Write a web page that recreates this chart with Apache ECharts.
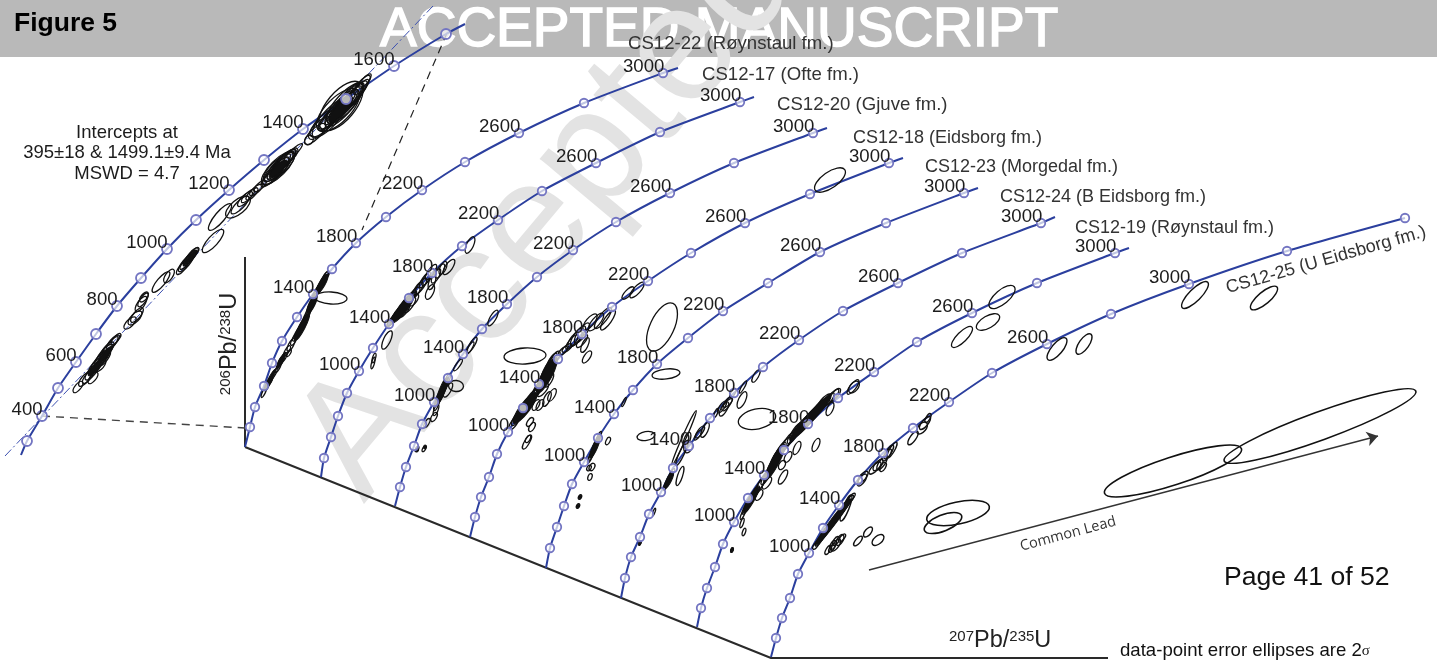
<!DOCTYPE html>
<html>
<head>
<meta charset="utf-8">
<title>Figure 5</title>
<script src="https://cdn.jsdelivr.net/npm/echarts@6/dist/echarts.min.js"></script>
<style>
	html, body { margin: 0; padding: 0; background: #fff; }
	#chart { width: 1437px; height: 666px; }
</style>
</head>
<body>
<div id="chart"></div>
<script>

// everything is read off the picture, in picture units (x right, y down)
// concordia ticks, one per 200 Ma starting at 200 Ma (inset: one per 100 Ma from 300 Ma)
var insetLine = [[21,455],[465,24]];
var insetTicks = [[27,441],[42,416],[58,388],[76,362],[96,334],[117,306],[141,278],[167,249],[196,220],[229,190],[264,160],[303,129],[346,99],[394,66],[446,34]];
var insetAges = [300,400,500,600,700,800,900,1000,1100,1200,1300,1400,1500,1600,1700];
var insetLabelled = [400,600,800,1000,1200,1400,1600];

var ticks22 = [[250,427],[255,407],[264,386],[272,363],[282,341],[297,317],[313,294],[332,269],[356,243],[386,217],[422,190],[465,162],[519,133],[584,103],[663,73]];
var ticks17 = [[324,458],[331,437],[338,416],[347,393],[359,371],[373,348],[389,324],[409,298],[432,273],[462,246],[498,220],[542,191],[596,163],[660,132],[740,102]];
var ticks20 = [[400,487],[406,467],[414,446],[422,424],[434,402],[448,378],[463,354],[482,329],[507,304],[537,277],[573,250],[616,222],[670,193],[734,163],[813,133]];
var ticks18 = [[475,517],[481,497],[489,477],[497,454],[508,432],[523,408],[539,384],[558,359],[582,334],[612,307],[648,281],[691,253],[745,223],[810,194],[889,163]];
var ticks23 = [[550,548],[557,527],[564,506],[572,484],[584,462],[598,438],[614,414],[633,390],[657,364],[688,338],[723,311],[768,283],[820,252],[886,223],[964,193]];
var ticks24 = [[625,578],[631,557],[640,537],[649,514],[661,492],[673,468],[689,446],[710,418],[734,393],[763,367],[799,340],[843,311],[898,283],[962,253],[1041,223]];
var ticks19 = [[701,608],[707,588],[715,567],[723,544],[734,522],[748,498],[764,475],[784,450],[808,424],[838,398],[874,372],[917,342],[972,313],[1037,283],[1115,253]];
var ticks25 = [[776,638],[782,618],[790,598],[798,574],[809,553],[823,528],[839,505],[858,480],[883,453],[913,428],[949,402],[992,373],[1047,344],[1111,314],[1189,284],[1287,251],[1405,218]];

var curveStarts = [[245,447],[321,477],[395,506],[470,537],[546,568],[621,598],[697,627],[771,657]];
var curveEnds = [[678,68],[754,97],[827,128],[903,158],[978,188],[1055,217],[1129,248],[1405,218]];
var curveTicks = [ticks22,ticks17,ticks20,ticks18,ticks23,ticks24,ticks19,ticks25];
var curveAges = [200,400,600,800,1000,1200,1400,1600,1800,2000,2200,2400,2600,2800,3000,3200,3400];
var labelled22 = [1400,1800,2200,2600,3000];
var labelledOther = [1000,1400,1800,2200,2600,3000];

var sampleNames = ['CS12-22 (Røynstaul fm.)','CS12-17 (Ofte fm.)','CS12-20 (Gjuve fm.)','CS12-18 (Eidsborg fm.)','CS12-23 (Morgedal fm.)','CS12-24 (B Eidsborg fm.)','CS12-19 (Røynstaul fm.)'];
var sampleAnchors = [[628,44],[702,75],[777,105],[853,138],[925,167],[1000,197],[1075,228]];

// error ellipses: centre x, centre y, long radius, short radius, tilt in degrees
var ellipsesInset = [
	[78,387,7,3,50],[85,379,9,3.5,50],[88,377,8,3,50],[92,372,10,3.5,50],[93,378,7,3,50],[96,366,11,4,50],[99,362,12,4,50],[100,365,8,4,50],[102,358,11,4,48],[104,354,12,3.5,50],[105,358,9,3,55],[107,350,10,3.5,50],[110,346,12,3,50],[113,342,9,3,48],[116,339,7,2.5,50],
	[130,323,8,3.5,45],[135,318,9,4,45],[137,315,9,3.5,50],[141,304,9,3.5,55],[143,300,8,3,55],[144,297,6,3,50],
	[161,282,13,4,50],[169,276,8,3.5,55],[182,268,8,3,50],[186,263,11,3.5,50],[188,260,12,3,50],[190,258,10,3,50],[192,255,9,3,50],[194,253,7,2.5,50],
	[213,241,15,5,48],[220,217,17,5,50],[238,207,15,7,40],[240,205,12,4,45],[245,199,10,3.5,45],[248,196,9,3,45],[252,194,8,3,45],[256,190,8,3,40],[260,186,8,3,40],
	[278,168,22,8,45],[279,167,20,7,42],[276,171,18,6,45],[280,166,18,6,48],[273,175,14,5,45],[283,162,15,5,45],[285,160,14,5,45],[278,168,15,4,45],[281,165,14,4,50],[270,178,12,4,45],[287,158,12,4,42],[293,153,13,3,45],[275,172,14,4,42],[291,155,9,4,45],[309,140,5,4,60],
	[320,128,15,6,45],[325,122,20,7,45],[330,118,25,8,48],[338,110,28,12,45],[341,106,30,14,50],[345,103,26,9,48],[342,108,24,8,48],[348,100,22,7,50],[350,98,20,6,48],[335,113,22,6,45],[333,116,20,5,46],[340,110,18,6,50],[355,95,18,5,50],[358,92,16,4,50],[362,85,12,4,50],[365,81,9,3,50],[346,103,16,5,48],[352,97,14,4,50],[329,119,15,5,45],[315,134,14,5,45],[337,113,16,4,45],[344,105,17,4,50]
];
var ellipses22 = [
	[264,392,6,1.5,65],[267,386,5,1.5,65],[270,381,5,1.5,62],[274,374,6,1.5,60],[278,368,5,1.5,58],[281,361,5,2,62],[284,357,5,2,62],[287,351,6,2,60],[291,345,7,2.5,62],[294,340,6,2,62],[297,334,8,2,60],[299,331,8,2,62],[302,325,9,2,62],[305,320,9,2,62],[307,315,8,2,62],[311,306,10,2,62],[313,301,9,2,65],[316,293,8,2,62],[319,288,9,2,60],[322,283,9,2,60],[324,279,8,2,60],[326,276,6,2,60],[331,298,16,6,-3],[289,353,4,1.5,60]
];
var ellipses17 = [
	[373,363,6,1.5,75],[374,358,5,1.5,72],[387,340,10,3.5,65],[391,322,6,2,50],[393,319,8,2,50],[396,316,9,2,50],[398,313,10,2.5,50],[400,310,10,2.5,50],[403,307,11,2.5,50],[405,304,11,3,48],[408,300,10,3,50],[411,297,8,2.5,50],[404,311,8,3,50],[410,305,9,3,55],[414,300,7,3,55],[415,293,7,3,50],[418,289,8,3,55],[421,286,9,3,55],[425,280,9,3,55],[428,277,10,3,55],[431,272,9,3,55],[432,282,8,3,70],[430,292,8,3.5,65],[436,276,8,3,60],[440,271,8,3,60],[449,267,9,3.5,55],[443,268,7,3,65],[470,245,9,3.5,65]
];
var ellipses20 = [
	[424,449,3,1.5,60],[417,449,3,1.5,60],[434,417,5,2.5,60],[427,423,5,2,60],[437,403,8,2,70],[439,398,8,2,70],[441,394,8,2,70],[443,390,9,2,70],[445,386,9,2,68],[447,381,8,2,68],[436,410,6,2,70],[456,386,7.5,5.5,-5],[448,390,8,3,60],[458,365,7,2,55],[472,345,9,2.5,60],[470,348,7,2,60],[493,318,9,3,60]
];
var ellipses18 = [
	[514,423,8,3,55],[517,418,9,3,55],[520,414,10,3,55],[523,410,10,3,55],[526,406,10,3,55],[528,402,9,3,55],[531,398,10,3,55],[535,394,10,3,55],[537,390,10,3,60],[540,386,11,3,60],[542,382,11,3,60],[544,377,11,3,65],[546,372,11,3,65],[549,367,11,3,65],[552,361,9,3,60],[555,358,8,3,55],[543,390,8,3,50],[549,380,8,3,60],[532,427,5,2.5,60],[530,422,5,2.5,55],[527,442,8,2.5,60],[528,439,4,2,60],[552,395,7,3,60],[547,399,8,3,65],[536,405,6,3,60],[540,405,6,3,60],[525,356,21,8,3],[587,357,7,3,55],[563,351,6,2.5,45],[567,348,6,2.5,40],[572,342,9,3,50],[575,339,10,4,50],[578,336,12,4,55],[582,333,12,4,55],[585,345,8,3,65],[590,322,10,4,50],[596,322,11,4,50],[603,318,13,4,52],[608,320,12,3.5,55],[582,341,8,3,50],[628,293,8,3,45],[637,290,10,3.5,48],[662,327,26,12,65],[830,180,18,8,35]
];
var ellipses23 = [
	[580,497,2.5,1.5,60],[578,506,2.5,1.5,60],[590,477,3.5,2,70],[592,467,4,2.5,60],[589,468,3,2,60],[590,458,6,1.5,65],[592,454,7,1.5,65],[594,449,7,1.5,65],[595,446,7,1.5,65],[597,441,7,1.5,70],[599,437,6,1.5,70],[608,441,4,2,65],[624,402,5,1,65],[666,374,14,5,7]
];
var ellipses24 = [
	[640,543,2.5,1,70],[654,512,4,1,70],[646,436,9,4.5,10],[666,485,6,1.5,65],[668,481,6,1.5,65],[670,477,6,1.5,65],[672,473,5,1.5,60],[680,476,10,2.5,72],[684,438,30,2,66],[682,453,14,2.5,65],[688,447,6,4,70],[687,440,8,3,70],[705,430,8,3,65],[700,432,7,2.5,55],[698,435,6,2,55],[716,413,5,1.5,65],[722,407,7,2.5,55],[727,404,8,3,55],[724,409,8,3,60],[728,403,6,2,45],[743,387,7,1.5,60],[742,400,9,3.5,65],[733,393,5,2,60],[756,376,7,2.5,60],[757,419,19,10,12]
];
var ellipses19 = [
	[732,550,2.5,1.2,70],[744,532,4,1.5,70],[742,523,5,1.5,70],[743,514,6,1.5,65],[746,508,7,2,62],[749,503,7,2,60],[752,498,8,2,60],[755,493,8,2.5,60],[759,487,9,2.5,60],[762,482,9,2.5,60],[766,477,9,2.5,60],[769,472,10,2.5,62],[772,466,10,2.5,62],[775,460,10,3,65],[778,455,10,3,62],[781,450,9,3,60],[785,445,9,3,55],[789,440,9,3,55],[793,436,9,3,55],[796,431,10,3,55],[800,427,9,3,50],[804,423,10,3,50],[808,419,11,3,50],[812,415,10,3,50],[816,411,11,3,50],[820,407,10,3.5,50],[824,402,10,3.5,50],[828,400,9,3,50],[832,397,10,3,50],[835,395,8,3,50],
	[759,495,6,3,60],[767,483,7,3,55],[782,465,5,3,60],[783,477,8,3,60],[797,448,7,3,65],[816,445,7,3,65],[788,457,6,3,60],[830,409,7,3,65],[853,387,9,3,52],[854,387,7,4,50],[962,337,14,5,45],[988,322,13,6,30],[1002,297,16,7,40]
];
var ellipses25 = [
	[816,545,5,2,55],[819,541,6,2,55],[822,537,6,2,55],[825,533,7,2,52],[828,529,7,2,52],[831,525,7,2,52],[834,521,7,2,52],[837,517,7,2,52],[840,513,8,2,52],[843,509,8,2,52],[846,505,7,2,52],[849,501,7,2,50],[851,498,6,2,50],[846,508,14,3,68],[862,480,7,3,55],[863,477,7,3,50],[875,468,8,3,45],[882,463,8,3,55],[878,465,7,3,50],[883,467,5,2.5,60],[887,455,7,2.5,55],[892,450,9,2.5,60],[889,452,8,2.5,60],[913,438,8,3,55],[922,428,7,4,50],[925,423,8,3,50],[928,418,5,2,60],
	[828,550,5,2,60],[833,545,5,2.5,60],[836,541,5,2.5,55],[840,540,6,3,60],[832,548,5,2,55],[836,545,7,3,55],[842,538,5,2,50],[858,541,6,2.5,50],[868,532,6,3,50],[878,540,7,4,40],
	[1057,349,14,5.5,50],[1084,344,12,5,55],[1195,295,18,6,45],[1264,298,17,6,40]
];
var ellipsesCommonLead = [[958,513,32,11,12],[943,523,20,8,22],[1173,471,72,14,18],[1320,426,102,14,20]];
// the overplotted streaks that read as solid black
var solidStreaks = [
	[270,380,12,2,63],[281,361,9,2,62],[302,327,15,3,62],[312,304,10,3,64],[322,284,11,3,60],
	[402,310,17,4,50],[442,391,14,3,68],[525,408,19,5,53],[547,375,20,5,62],[425,447,2,1.5,70],[417,450,2,1.5,70],
	[595,447,12,2.5,67],[580,497,2,1.3,60],[578,506,2,1.3,60],[669,480,9,2.5,65],[640,543,2.5,1,70],
	[751,500,15,3,60],[775,462,20,4,62],[810,418,30,4,48],[833,522,29,3,53],[732,550,2.5,1.2,70],
	[105,355,12,2.5,50],[95,368,10,2.5,50],[190,258,10,2,50],[340,110,16,5,48],[278,169,12,4,45]
];

var axisUp = [[245,257],[245,447]];
var axisBase = [[245,447],[771,658],[1108,658]];
var dashInsetLow = [[42,416],[245,428]];
var dashInsetHigh = [[447,33],[362,230]];
var discordia = [[5,456],[433,6]];
var commonLeadArrow = [[869,570],[1378,436]];

var BLUE = '#2b3f9e';
var series = [];

function plainLine(points, color, width, type) {
	return {
		type: 'line',
		data: points,
		showSymbol: false,
		silent: true,
		z: 3,
		lineStyle: { color: color, width: width, type: type || 'solid' }
	};
}

function tickSeries(points, ages, labelled, size) {
	var data = [];
	for (var i = 0; i < points.length; i++) {
		var item = { value: points[i] };
		if (labelled.indexOf(ages[i]) >= 0) {
			item.label = { show: true, formatter: String(ages[i]) };
		}
		data.push(item);
	}
	return {
		type: 'scatter',
		data: data,
		symbol: 'circle',
		symbolSize: size,
		silent: true,
		z: 6,
		itemStyle: { color: 'rgba(255,255,255,0.7)', borderColor: '#7375c2', borderWidth: 1.8, opacity: 1 },
		label: {
			show: false,
			position: 'left',
			distance: 0,
			offset: [6.5, -6.5],
			color: '#1c1c1c',
			fontSize: 18.6,
			fontFamily: 'Liberation Sans'
		}
	};
}

function ellipseSeries(list, width, fill) {
	return {
		type: 'custom',
		data: list,
		silent: true,
		clip: false,
		z: 5,
		renderItem: function(params, api) {
			var c = api.coord([api.value(0), api.value(1)]);
			var s = api.size([api.value(2), api.value(3)]);
			return {
				type: 'ellipse',
				x: c[0],
				y: c[1],
				rotation: api.value(4) * Math.PI / 180,
				shape: { cx: 0, cy: 0, rx: s[0], ry: s[1] },
				style: { fill: fill || 'none', stroke: '#111', lineWidth: width }
			};
		}
	};
}

// axes and guide lines
series.push(plainLine(axisUp, '#2a2a2a', 2));
series.push(plainLine(axisBase, '#2a2a2a', 2));
series.push(plainLine(dashInsetLow, '#444', 1.4, [8, 6]));
series.push(plainLine(dashInsetHigh, '#222', 1.2, [8, 6]));
series.push(plainLine(discordia, '#3c50b0', 1, [9, 3, 2, 3]));

// inset and the stacked concordia curves
series.push(plainLine(insetLine, BLUE, 2));
series[series.length - 1].data = [insetLine[0]].concat(insetTicks, [insetLine[1]]);
series[series.length - 1].smooth = 0.2;
for (var i = 0; i < curveTicks.length; i++) {
	var pts = [curveStarts[i]].concat(curveTicks[i]);
	if (curveEnds[i][0] != curveTicks[i][curveTicks[i].length - 1][0]) {
		pts.push(curveEnds[i]);
	}
	var curve = plainLine(pts, BLUE, 2);
	curve.smooth = 0.2;
	series.push(curve);
}

// ellipses
series.push(ellipseSeries(ellipsesInset, 1.3));
series.push(ellipseSeries(ellipses22, 1.3));
series.push(ellipseSeries(ellipses17, 1.3));
series.push(ellipseSeries(ellipses20, 1.3));
series.push(ellipseSeries(ellipses18, 1.3));
series.push(ellipseSeries(ellipses23, 1.3));
series.push(ellipseSeries(ellipses24, 1.3));
series.push(ellipseSeries(ellipses19, 1.3));
series.push(ellipseSeries(ellipses25, 1.4));
series.push(ellipseSeries(ellipsesCommonLead, 1.6));
series.push(ellipseSeries(solidStreaks, 1, '#111'));

// ticks with their age labels
series.push(tickSeries(insetTicks, insetAges, insetLabelled, 10));
for (var k = 0; k < curveTicks.length; k++) {
	series.push(tickSeries(curveTicks[k], curveAges, k == 0 ? labelled22 : labelledOther, 8.5));
}

// sample names, the first three are set a little larger in the figure
series.push({
	type: 'scatter',
	data: sampleAnchors.map(function(p, n) {
		return { value: p, name: sampleNames[n], label: { fontSize: n < 3 ? 18.6 : 18 } };
	}),
	symbolSize: 0,
	silent: true,
	z: 7,
	itemStyle: { opacity: 1 },
	label: {
		show: true,
		position: 'right',
		distance: 0,
		formatter: '{b}',
		color: '#333',
		fontFamily: 'Liberation Sans'
	}
});

// common lead trend
series.push({
	type: 'line',
	data: [],
	silent: true,
	markLine: {
		silent: true,
		animation: false,
		symbol: ['none', 'arrow'],
		symbolSize: 11,
		label: { show: false },
		lineStyle: { color: '#333', width: 1.3, type: 'solid' },
		data: [[{ coord: commonLeadArrow[0] }, { coord: commonLeadArrow[1] }]]
	}
});

var option = {
	animation: false,
	backgroundColor: '#fff',
	grid: { left: 0, right: 0, top: 0, bottom: 0 },
	xAxis: { type: 'value', min: 0, max: 1437, show: false },
	yAxis: { type: 'value', min: 0, max: 666, inverse: true, show: false },
	graphic: [
		{ type: 'rect', z: 0, shape: { x: 0, y: 0, width: 1437, height: 57 }, style: { fill: '#b9b9b9' } },
		{ type: 'text', z: 1, x: 380, y: 31, style: { text: 'ACCEPTED MANUSCRIPT', fill: '#fff', stroke: '#fff', lineWidth: 1.5, font: '55px "Liberation Sans"', verticalAlign: 'middle' } },
		{ type: 'text', z: 1, x: 392, y: 528, rotation: 50 * Math.PI / 180, style: { text: 'Accepted', fill: '#e3e3e3', font: '165px "Liberation Sans"', verticalAlign: 'bottom' } },
		{ type: 'text', z: 10, x: 14, y: 24, style: { text: 'Figure 5', fill: '#000', font: 'bold 26.5px "Liberation Sans"', verticalAlign: 'middle' } },
		{ type: 'text', z: 10, x: 127, y: 133, style: { text: 'Intercepts at', fill: '#1c1c1c', font: '18.5px "Liberation Sans"', align: 'center', verticalAlign: 'middle' } },
		{ type: 'text', z: 10, x: 127, y: 153, style: { text: '395±18 & 1499.1±9.4 Ma', fill: '#1c1c1c', font: '18.5px "Liberation Sans"', align: 'center', verticalAlign: 'middle' } },
		{ type: 'text', z: 10, x: 127, y: 174, style: { text: 'MSWD = 4.7', fill: '#1c1c1c', font: '18.5px "Liberation Sans"', align: 'center', verticalAlign: 'middle' } },
		{ type: 'text', z: 10, x: 1326, y: 260, rotation: 16 * Math.PI / 180, style: { text: 'CS12-25 (U Eidsborg fm.)', fill: '#333', font: '18px "Liberation Sans"', align: 'center', verticalAlign: 'middle' } },
		{ type: 'text', z: 10, x: 1068, y: 534, rotation: 15 * Math.PI / 180, style: { text: 'Common Lead', fill: '#333', font: '14.5px "Open Sans"', align: 'center', verticalAlign: 'middle' } },
		{ type: 'text', z: 10, x: 1224, y: 578, style: { text: 'Page 41 of 52', fill: '#111', font: '26.6px "Liberation Sans"', verticalAlign: 'middle' } },
		{ type: 'text', z: 10, x: 1120, y: 651, style: {
			text: 'data-point error ellipses are 2{s|σ}', fill: '#111', font: '18.6px "Liberation Sans"', verticalAlign: 'middle',
			rich: { s: { font: '15px "Liberation Serif"', fill: '#111' } }
		} },
		{ type: 'text', z: 10, x: 949, y: 641, style: {
			text: '{sup|207}Pb/{sup|235}U', fill: '#222', font: '23.5px "Liberation Sans"', verticalAlign: 'middle',
			rich: { sup: { font: '15px "Liberation Sans"', fill: '#222', verticalAlign: 'top', padding: [0, 0, 8, 0] } }
		} },
		{ type: 'text', z: 10, x: 230, y: 344, rotation: Math.PI / 2, style: {
			text: '{sup|206}Pb/{sup|238}U', fill: '#222', font: '23.5px "Liberation Sans"', align: 'center', verticalAlign: 'middle',
			rich: { sup: { font: '15px "Liberation Sans"', fill: '#222', verticalAlign: 'top', padding: [0, 0, 8, 0] } }
		} }
	],
	series: series
};

var chart = echarts.init(document.getElementById('chart'));
chart.setOption(option);

</script>
</body>
</html>
